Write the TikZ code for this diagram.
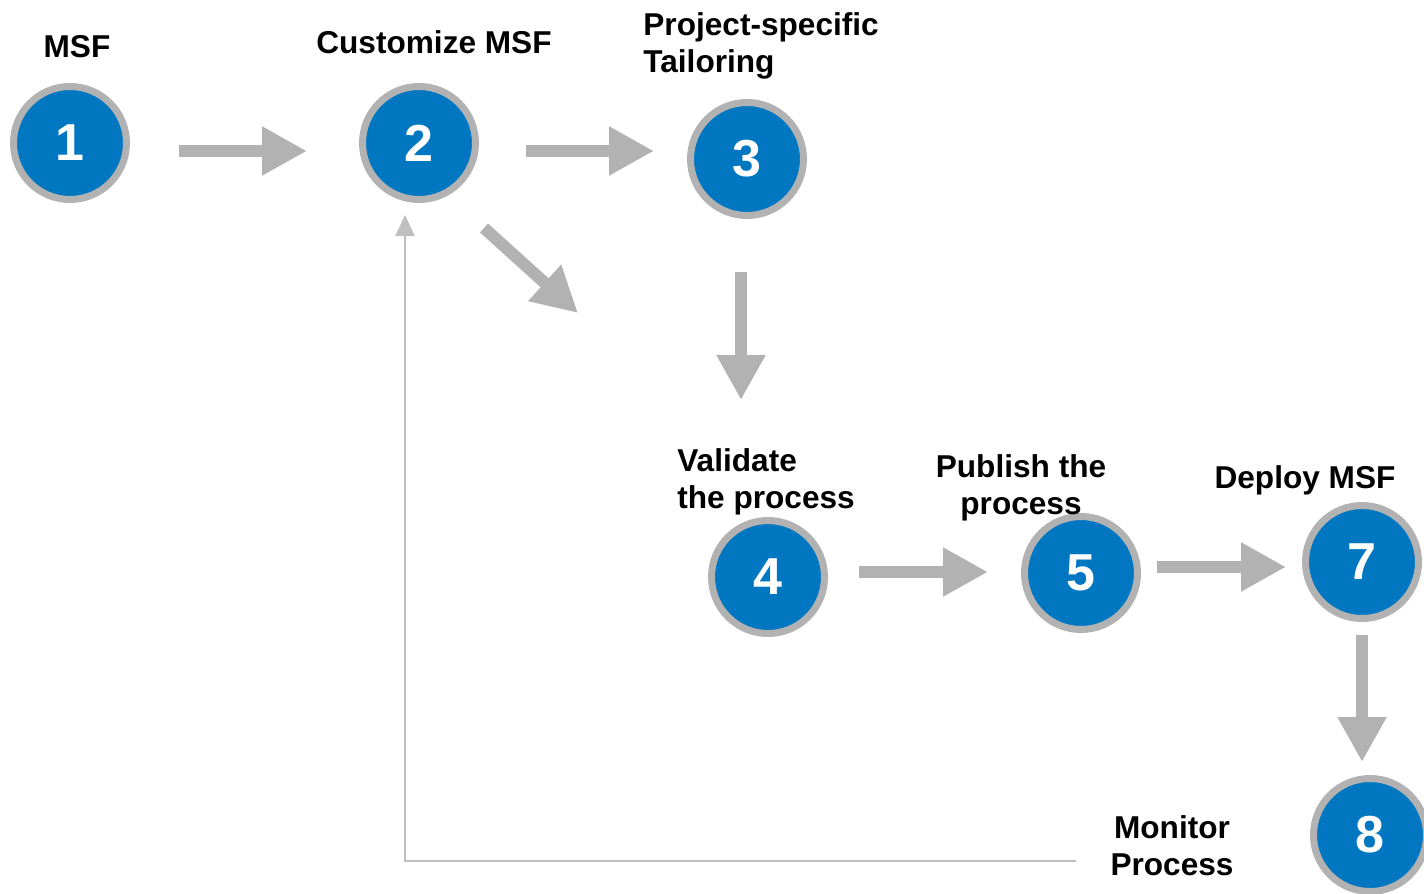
\documentclass[tikz,border=0pt]{standalone}
\usepackage{fontspec}
\setmainfont{Liberation Sans}
\usetikzlibrary{arrows.meta}
\definecolor{stepblue}{HTML}{0077C0}
\definecolor{ringgray}{HTML}{B2B2B2}
\definecolor{linegray}{HTML}{BFBFBF}
\begin{document}
\begin{tikzpicture}[x=0.5pt,y=-0.5pt,
  stepnode/.style={circle, fill=stepblue, draw=ringgray, line width=3.5pt, minimum size=56.5pt, inner sep=0pt, text=white, font=\fontsize{26}{30}\selectfont\bfseries},
  lbl/.style={font=\fontsize{15.8}{18.5}\selectfont\bfseries, inner sep=0pt},
  bigarrow/.style={draw=ringgray, line width=6pt, -{Triangle[length=22.5pt,width=23pt]}},
  thinarrow/.style={draw=linegray, line width=1pt, -{Triangle[length=10.5pt,width=9.5pt]}}]
\useasboundingbox (0,0) rectangle (1424,894);

% circles
\node[stepnode] (s1) at (70,143) {1};
\node[stepnode] (s2) at (419,143) {2};
\node[stepnode] (s3) at (747,159) {3};
\node[stepnode] (s4) at (768,577) {4};
\node[stepnode] (s5) at (1081,573) {5};
\node[stepnode] (s7) at (1362,562) {7};
\node[stepnode] (s8) at (1370,835) {8};

% labels
\node[lbl, anchor=base] (l1) at (77,57) {MSF};
\node[lbl, anchor=base] (l2) at (434,54) {Customize MSF};
\node[lbl, anchor=north west, align=left] (l3) at (643,12) {Project-specific\\Tailoring};
\node[lbl, anchor=north west, align=left] (l4) at (677,448) {Validate\\the process};
\node[lbl, anchor=north, align=center] (l5) at (1021,454) {Publish the\\process};
\node[lbl, anchor=base] (l7) at (1305,488) {Deploy MSF};
\node[lbl, anchor=north, align=center] (l8) at (1172,815) {Monitor\\Process};

% arrow end points
\coordinate (a12s) at (179,151);  \coordinate (a12e) at (307,151);
\coordinate (a23s) at (526,151);  \coordinate (a23e) at (654,151);
\coordinate (a2ds) at (484,228);  \coordinate (a2de) at (578,313);
\coordinate (a34s) at (741,272);  \coordinate (a34e) at (741,400);
\coordinate (a45s) at (859,572);  \coordinate (a45e) at (988,572);
\coordinate (a57s) at (1157,567); \coordinate (a57e) at (1286,567);
\coordinate (a78s) at (1362,635); \coordinate (a78e) at (1362,762);
\coordinate (fbs) at (1076,861);  \coordinate (fbc) at (405,861);
\coordinate (fbe) at (405,215);

\draw[bigarrow] (a12s) -- (a12e);
\draw[bigarrow] (a23s) -- (a23e);
\draw[bigarrow] (a2ds) -- (a2de);
\draw[bigarrow] (a34s) -- (a34e);
\draw[bigarrow] (a45s) -- (a45e);
\draw[bigarrow] (a57s) -- (a57e);
\draw[bigarrow] (a78s) -- (a78e);
\draw[thinarrow] (fbs) -- (fbc) -- (fbe);
\end{tikzpicture}
\end{document}
